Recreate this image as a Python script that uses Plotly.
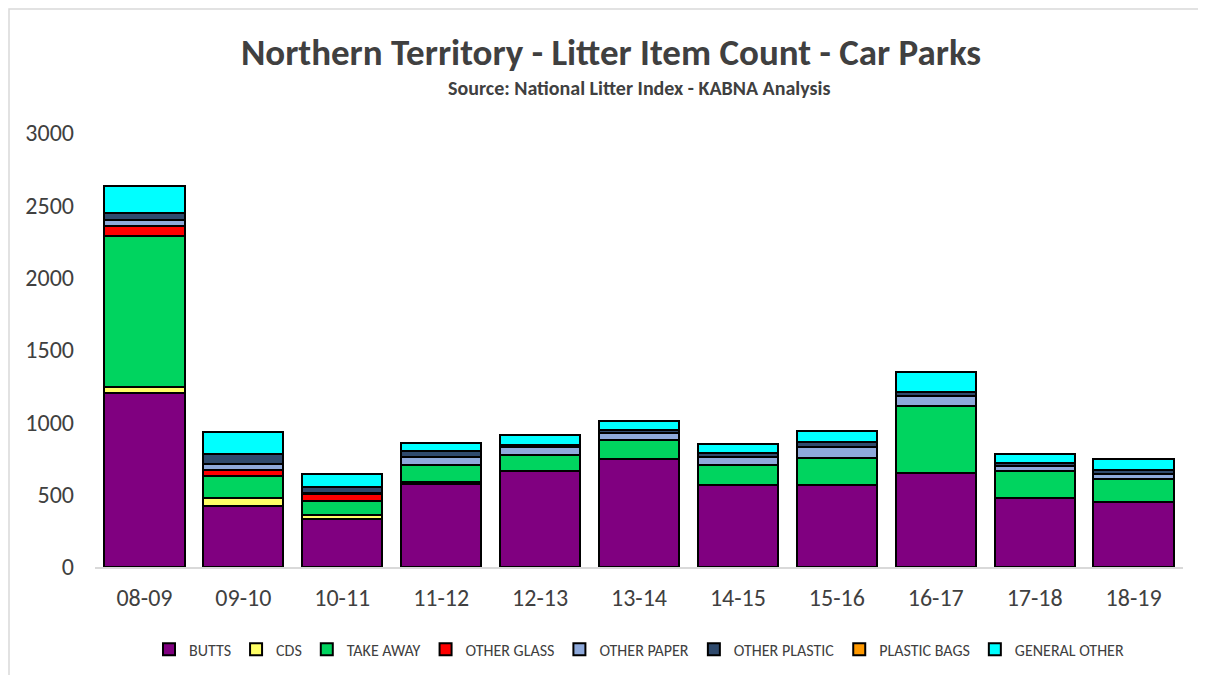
import plotly.graph_objects as go

years = ['08-09', '09-10', '10-11', '11-12', '12-13', '13-14', '14-15', '15-16', '16-17', '17-18', '18-19']

butts = [1200, 420, 330, 575, 665, 750, 565, 565, 650, 478, 450]
cds = [45, 60, 30, 15, 0, 0, 0, 0, 0, 0, 0]
take_away = [1040, 150, 95, 115, 110, 130, 140, 190, 460, 185, 160]
other_glass = [75, 40, 50, 0, 0, 0, 0, 0, 0, 0, 0]
other_paper = [37, 40, 10, 55, 55, 45, 55, 75, 70, 35, 35]
other_plastic = [50, 70, 35, 45, 10, 20, 30, 35, 30, 23, 25]
plastic_bags = [0, 0, 0, 0, 0, 0, 0, 0, 0, 0, 0]
general_other = [185, 155, 90, 50, 70, 65, 60, 77, 135, 58, 75]

series = [
    ('BUTTS', butts, '#800080'),
    ('CDS', cds, '#FFFF66'),
    ('TAKE AWAY', take_away, '#00D45F'),
    ('OTHER GLASS', other_glass, '#FF0000'),
    ('OTHER PAPER', other_paper, '#8EA9DB'),
    ('OTHER PLASTIC', other_plastic, '#2F4A6D'),
    ('PLASTIC BAGS', plastic_bags, '#FF9900'),
    ('GENERAL OTHER', general_other, '#00FFFF'),
]

font_family = 'Carlito, Calibri, "Liberation Sans Narrow", "Open Sans", sans-serif'

fig = go.Figure()
for name, vals, col in series:
    fig.add_trace(go.Bar(
        name=name, x=years, y=vals,
        marker=dict(color=col, line=dict(color='black', width=2)),
    ))

fig.update_layout(
    barmode='stack',
    bargap=0.19,
    width=1206, height=675,
    plot_bgcolor='white', paper_bgcolor='white',
    margin=dict(l=87, r=31, t=125, b=116),
    font=dict(family=font_family, color='#404040'),
    title=dict(
        text='<b>Northern Territory - Litter Item Count - Car Parks</b>',
        x=0.5, xanchor='center', y=0.935, yanchor='middle',
        font=dict(size=37, color='#404040'),
    ),
    legend=dict(
        orientation='h', x=0.5, xanchor='center', y=-0.19, yanchor='middle',
        font=dict(size=16, color='#404040'), itemwidth=30,
        traceorder='normal',
    ),
    showlegend=True,
)

fig.add_annotation(
    text='<b>Source: National Litter Index - KABNA Analysis</b>',
    xref='paper', yref='paper', x=0.5, y=1.104, xanchor='center', yanchor='middle',
    showarrow=False, font=dict(size=20, color='#404040'),
)

fig.update_xaxes(
    type='category',
    showline=True, linecolor='#D9D9D9', linewidth=1.5,
    tickfont=dict(size=24, color='#404040'), ticks='', ticklabelstandoff=8,
)
fig.update_yaxes(
    range=[0, 3000], dtick=500, showgrid=False, zeroline=False,
    tickfont=dict(size=24, color='#404040'), ticklabelstandoff=20,
)

# light chart frame
fig.add_shape(type='rect', xref='paper', yref='paper',
              x0=-86 / 1088, x1=1.2, y0=-0.4, y1=1 + 124 / 434,
              line=dict(color='#D9D9D9', width=1.5), layer='below')

fig.write_html('out.html')
